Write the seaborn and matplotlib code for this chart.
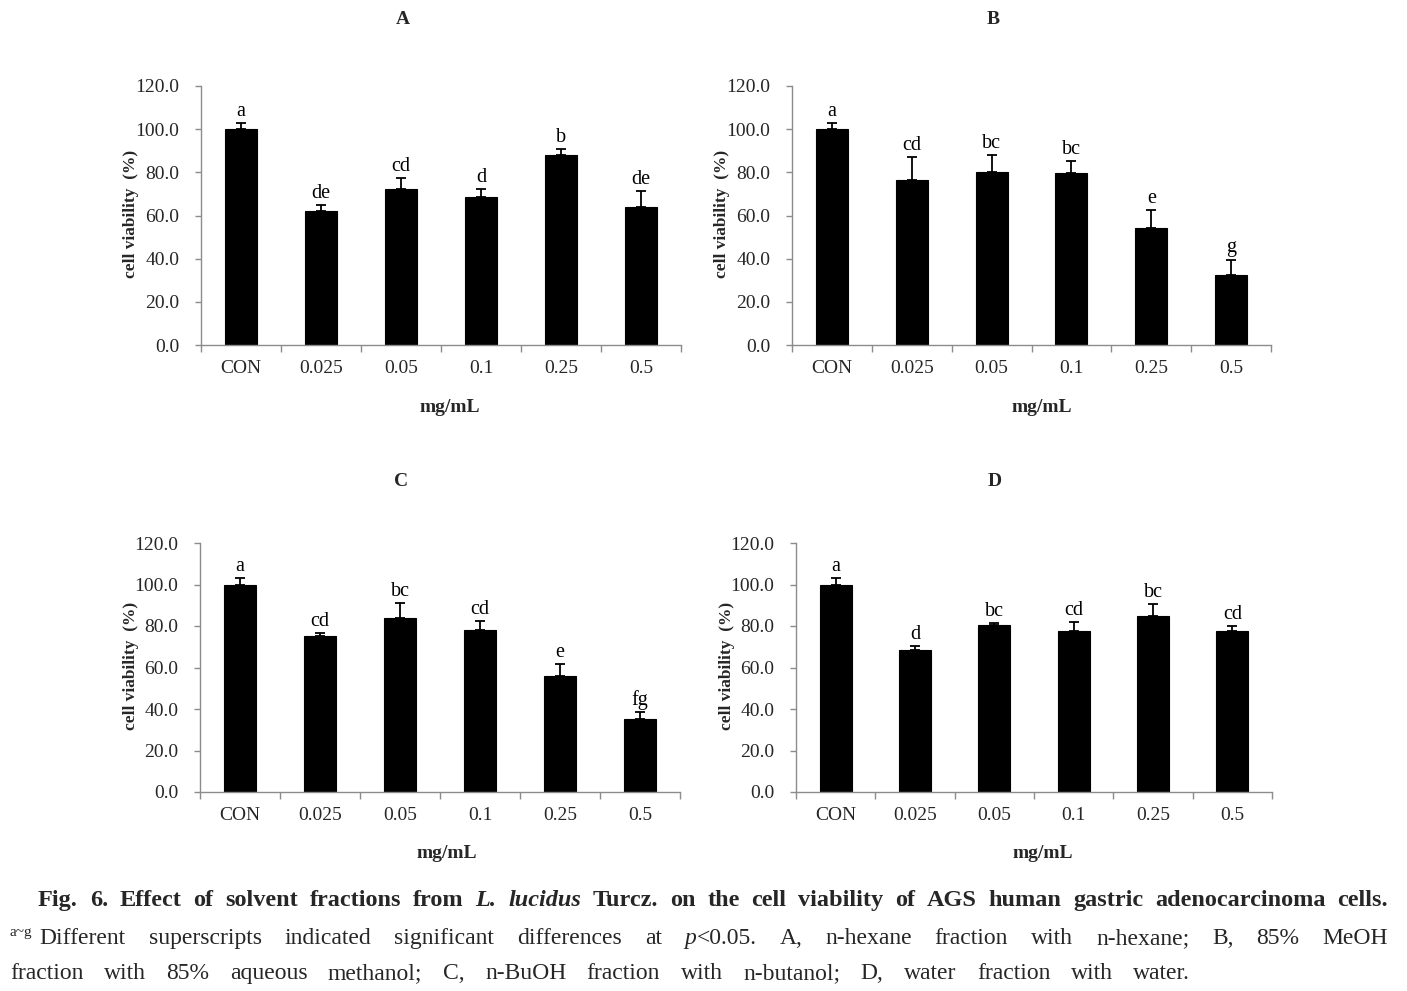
import numpy as np
import pandas as pd
import matplotlib
matplotlib.use("Agg")
import matplotlib.pyplot as plt
import matplotlib.transforms as mtransforms
import seaborn as sns

# ---------------- data ----------------
categories = ["CON", "0.025", "0.05", "0.1", "0.25", "0.5"]
panel_titles = ["A", "B", "C", "D"]

means_A = [100.0, 62.0, 72.3, 68.5, 88.2, 63.8]
err_A = [2.8, 2.8, 5.0, 3.7, 2.8, 7.7]
letters_A = ["a", "de", "cd", "d", "b", "de"]

means_B = [100.0, 76.3, 80.3, 79.7, 54.2, 32.6]
err_B = [2.8, 10.7, 7.6, 5.5, 8.3, 7.0]
letters_B = ["a", "cd", "bc", "bc", "e", "g"]

means_C = [100.0, 75.0, 84.0, 78.0, 56.0, 35.3]
err_C = [3.3, 1.6, 7.0, 4.3, 5.6, 3.4]
letters_C = ["a", "cd", "bc", "cd", "e", "fg"]

means_D = [100.0, 68.5, 80.3, 77.4, 84.6, 77.4]
err_D = [3.2, 1.7, 1.1, 4.6, 5.8, 2.8]
letters_D = ["a", "d", "bc", "cd", "bc", "cd"]

y_ticks = [0, 20, 40, 60, 80, 100, 120]
y_label = "cell viability  (%)"
x_label = "mg/mL"

# ---------------- style ----------------
sns.set_theme(style="ticks")
plt.rcParams["font.family"] = ["Liberation Serif", "DejaVu Serif"]

W, H = 1407, 991
fig = plt.figure(figsize=(W / 100, H / 100), dpi=100)
fig.patch.set_facecolor("white")

# axes boxes in pixels: left, right, top, bottom
boxes = [(201, 681, 86, 345), (792, 1271, 86, 345),
         (200, 680, 543, 792), (796, 1272, 543, 792)]
title_pos = [(403, 20), (993, 20), (401, 481), (995, 481)]
xlabel_pos = [(450, 408), (1042, 408), (447, 853), (1043, 853)]
ylabel_pos = [(131, 214), (722, 214), (131, 666), (727, 666)]

panels = [(means_A, err_A, letters_A), (means_B, err_B, letters_B),
          (means_C, err_C, letters_C), (means_D, err_D, letters_D)]

axis_color = "#8c8c8c"

for i, (means, errs, letters) in enumerate(panels):
    l, r, t, b = boxes[i]
    ax = fig.add_axes([l / W, 1 - b / H, (r - l) / W, (b - t) / H])
    df = pd.DataFrame({"conc": categories, "viability": means})
    sns.barplot(data=df, x="conc", y="viability", order=categories,
                color="black", saturation=1, width=0.4, errorbar=None,
                edgecolor="black", linewidth=0.8, ax=ax)
    xs = np.arange(len(categories))
    ax.errorbar(xs, means, yerr=[np.zeros(len(errs)), errs], fmt="none",
                ecolor="black", elinewidth=1.3, capsize=3.3, capthick=1.3,
                zorder=3)
    for x, m, e, lt in zip(xs, means, errs, letters):
        ax.annotate(lt, (x, m + e), xytext=(0, 1.5), textcoords="offset points",
                    ha="center", va="bottom", fontsize=14.5, color="black")
    ax.set_xlim(-0.5, len(categories) - 0.5)
    ax.set_ylim(0, 120)
    ax.set_yticks(y_ticks)
    ax.set_yticklabels([f"{v:.1f}" for v in y_ticks], fontsize=14)
    ax.set_xticks(xs)
    ax.set_xticklabels(categories, fontsize=14)
    ax.set_xticks(np.arange(-0.5, len(categories), 1.0), minor=True)
    ax.tick_params(axis="x", which="major", length=0, pad=11)
    ax.tick_params(axis="x", which="minor", length=5, width=1,
                   color=axis_color, direction="out")
    ax.tick_params(axis="y", which="major", length=4.5, width=1,
                   color=axis_color, direction="out", pad=11)
    for s in ["top", "right"]:
        ax.spines[s].set_visible(False)
    for s in ["left", "bottom"]:
        ax.spines[s].set_color(axis_color)
        ax.spines[s].set_linewidth(1.0)
    ax.set_xlabel("")
    ax.set_ylabel("")
    ax.set_facecolor("white")
    ax.grid(False)

    tx, ty = title_pos[i]
    fig.text(tx / W, 1 - ty / H, panel_titles[i], ha="center", va="center",
             fontsize=14, fontweight="bold")
    lx, ly = xlabel_pos[i]
    fig.text(lx / W, 1 - ly / H, x_label, ha="center", va="center",
             fontsize=14, fontweight="bold")
    yx, yy = ylabel_pos[i]
    fig.text(yx / W, 1 - yy / H, y_label, ha="center", va="center",
             rotation=90, fontsize=12.5, fontweight="bold")

# ---------------- caption (justified lines) ----------------
renderer = fig.canvas.get_renderer()
ident = mtransforms.IdentityTransform()
CAP_SIZE = 17
CAP_SIZE_1 = 17.5


def seg(text, weight="normal", style="normal", size=CAP_SIZE, rise=0, after=0):
    return dict(text=text, weight=weight, style=style, size=size, rise=rise,
                after=after)


def draw_line(words, x0, x1, y_top_baseline):
    yb = H - y_top_baseline
    placed = []
    total = 0.0
    for w in words:
        arts = []
        wsum = 0.0
        for s in w:
            a = fig.text(0, 0, s["text"], transform=ident, fontsize=s["size"],
                         fontweight=s["weight"], fontstyle=s["style"],
                         ha="left", va="baseline")
            wd = a.get_window_extent(renderer).width + s["after"]
            arts.append((a, wd, s["rise"]))
            wsum += wd
        placed.append((arts, wsum))
        total += wsum
    gap = (x1 - x0 - total) / max(len(words) - 1, 1)
    x = x0
    for arts, wsum in placed:
        xx = x
        for a, wd, rise in arts:
            a.set_position((xx, yb + rise))
            xx += wd
        x += wsum + gap


B = "bold"
line1 = [[seg(w, weight=B, size=CAP_SIZE_1)]
         for w in ["Fig.", "6.", "Effect", "of", "solvent", "fractions", "from"]]
line1 += [[seg("L.", weight=B, style="italic", size=CAP_SIZE_1)],
          [seg("lucidus", weight=B, style="italic", size=CAP_SIZE_1)]]
line1 += [[seg(w, weight=B, size=CAP_SIZE_1)]
          for w in ["Turcz.", "on", "the", "cell", "viability", "of", "AGS",
                    "human", "gastric", "adenocarcinoma", "cells."]]

line2 = [[seg("a~g", size=11, rise=8, after=7), seg("Different")]]
line2 += [[seg(w)] for w in ["superscripts", "indicated",
                             "significant", "differences", "at"]]
line2 += [[seg("p", style="italic"), seg("<0.05.")]]
line2 += [[seg(w)] for w in ["A,", "n-hexane", "fraction", "with", "n-hexane;",
                             "B,", "85%", "MeOH"]]

line3 = [[seg(w)] for w in ("fraction with 85% aqueous methanol; C, n-BuOH "
                            "fraction with n-butanol; D, water fraction with "
                            "water.").split()]

draw_line(line1, 38, 1388, 906)
draw_line(line2, 10, 1388, 944)
draw_line(line3, 10, 1190, 979)

fig.savefig("out.png", dpi=100, facecolor="white")
